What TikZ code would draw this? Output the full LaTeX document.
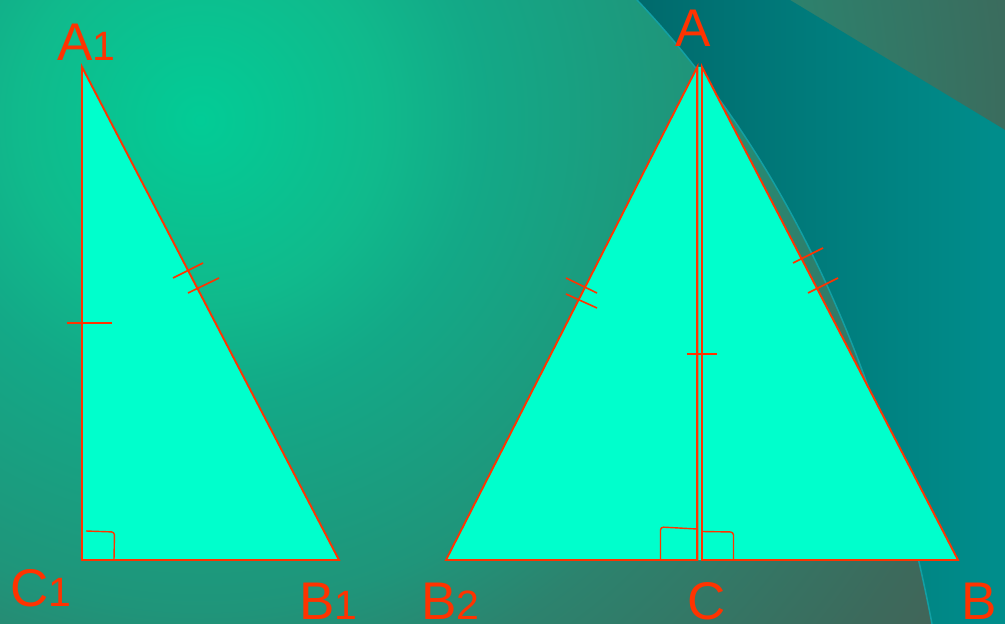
\documentclass[tikz,border=0pt]{standalone}
\usepackage{fontspec}
\setmainfont{Liberation Sans}
\definecolor{bgA}{HTML}{02CC96}
\definecolor{bgB}{HTML}{10BA8C}
\definecolor{bgC}{HTML}{13A987}
\definecolor{bgD}{HTML}{1F957A}
\definecolor{bgE}{HTML}{2C836E}
\definecolor{bgF}{HTML}{3C6A5C}
\definecolor{bgG}{HTML}{426458}
\definecolor{tealL}{HTML}{006A6C}
\definecolor{tealR}{HTML}{008E8C}
\definecolor{edgeLine}{HTML}{12A0A4}
\definecolor{triFill}{HTML}{00FFCC}
\definecolor{redLine}{HTML}{FF3300}
\pgfdeclareradialshading{bgrad}{\pgfpoint{0bp}{0bp}}{color(0bp)=(bgA); color(5bp)=(bgB); color(7.8bp)=(bgC); color(13.6bp)=(bgD); color(16.4bp)=(bgE); color(23bp)=(bgF); color(25bp)=(bgG); color(50bp)=(bgG)}
\newcommand\LetterSize{\fontsize{53bp}{53bp}\selectfont}
\newcommand\DigitSize{\fontsize{41bp}{41bp}\selectfont}
\begin{document}
\begin{tikzpicture}[x=1bp,y=-1bp,
  tri/.style={draw=redLine,line width=1.9bp,line join=miter},
  tickmark/.style={draw=redLine,line width=1.6bp},
  rmark/.style={draw=redLine,line width=1.4bp,rounded corners=3bp},
  lbl/.style={text=redLine,anchor=base west,inner sep=0pt,outer sep=0pt,text depth=0pt,font=\LetterSize}]
\useasboundingbox (0,0) rectangle (1005,624);
% background
\begin{scope}
\clip (0,0) rectangle (1005,624);
\shade[shading=bgrad] (200,120) circle (900);
\end{scope}
\shade[left color=tealL, right color=tealR] (637,0) .. controls (783.7,154.7) and (882,362.7) .. (932,624) -- (1005,624) -- (1005,130) -- (790,0) -- cycle;
\draw[edgeLine, line width=1.5bp] (637,0) .. controls (783.7,154.7) and (882,362.7) .. (932,624);
% vertices
\coordinate (A1) at (82,67);
\coordinate (C1) at (82,560);
\coordinate (B1) at (339,560);
\coordinate (Al) at (697.3,67);
\coordinate (Cl) at (697.3,560);
\coordinate (B2) at (446,560);
\coordinate (Ar) at (702,67);
\coordinate (Cr) at (702,560);
\coordinate (B) at (958,560);
% triangles
\fill[triFill] (A1) -- (C1) -- (B1) -- cycle;
\fill[triFill] (B2) -- (Al) -- (Ar) -- (B) -- cycle;
\draw[tri] (A1) -- (C1) -- (B1) -- cycle;
\draw[tri] (Al) -- (Cl) -- (B2) -- cycle;
\draw[tri] (Ar) -- (Cr) -- (B) -- cycle;
\draw[tri, line width=2.3bp] (Al) -- (Cl);
\draw[tri, line width=2.3bp] (Ar) -- (Cr);
% tick marks
\draw[tickmark] (67,323) -- (112,323);
\draw[tickmark] (173,278) -- (203,263);
\draw[tickmark] (188,293) -- (219,278);
\draw[tickmark] (566,278) -- (597,293);
\draw[tickmark] (566,294) -- (597,308);
\draw[tickmark] (793,263) -- (823,248);
\draw[tickmark] (808,293) -- (838,278);
\draw[tickmark] (687,354) -- (717,354);
% right-angle marks
\draw[rmark] (86,531) -- (114.5,532) -- (114,560);
\draw[rmark] (660.5,560) -- (660.5,527) -- (697,529);
\draw[rmark] (702,531.5) -- (733.5,532) -- (733.5,560);
% labels
\node[lbl] (lA1) at (57,61) {A\DigitSize 1};
\node[lbl] (lA) at (675,47) {A};
\node[lbl] (lC1) at (10,606) {C\DigitSize 1};
\node[lbl] (lB1) at (299,619) {B\DigitSize 1};
\node[lbl] (lB2) at (421,619) {B\DigitSize 2};
\node[lbl] (lC) at (687,619) {C};
\node[lbl] (lB) at (961,619) {B};
\end{tikzpicture}
\end{document}
